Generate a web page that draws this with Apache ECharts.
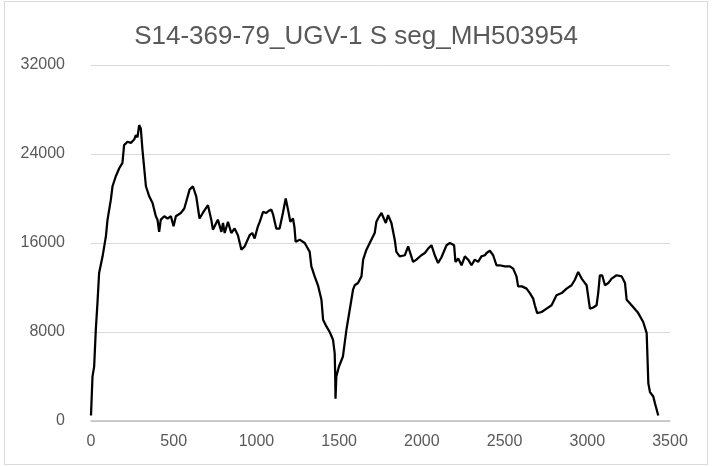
<!DOCTYPE html>
<html>
<head>
<meta charset="utf-8">
<script src="https://cdn.jsdelivr.net/npm/echarts@6/dist/echarts.min.js"></script>
<style>
  html, body { margin: 0; padding: 0; background: #fff; }
  #frame { position: absolute; left: 4px; top: 1px; width: 702px; height: 462px; border: 1px solid #d9d9d9; }
  #chart { position: absolute; left: 0; top: 0; width: 712px; height: 466px; }
</style>
</head>
<body>
<div id="frame"></div>
<div id="chart"></div>
<script>
// positions along the segment (nt) and read coverage depth
var position = [
  0, 9, 19, 29, 39, 49, 70, 90, 100, 120, 130, 150, 170, 190, 200, 221, 241, 261, 271, 281, 291, 301, 311,
  332, 352, 372, 392, 402, 412, 422, 443, 463, 483, 499, 513, 543, 564, 576, 596, 616, 636, 656, 676,
  707, 727, 737, 757, 767, 788, 798, 808, 828, 848, 868, 888, 909, 929, 959, 975, 989, 1009, 1020,
  1040, 1060, 1075, 1090, 1100, 1120, 1140, 1160, 1177, 1191, 1205, 1221, 1230, 1237, 1261, 1292,
  1322, 1332, 1352, 1372, 1393, 1403, 1423, 1443, 1463, 1473, 1476, 1478, 1483, 1499, 1523, 1544,
  1564, 1584, 1594, 1614, 1635, 1645, 1665, 1685, 1715, 1725, 1735, 1756, 1770, 1782, 1796, 1816,
  1836, 1846, 1866, 1897, 1917, 1927, 1947, 1967, 1997, 2018, 2038, 2058, 2078, 2098, 2118, 2149,
  2169, 2195, 2203, 2220, 2240, 2260, 2280, 2300, 2320, 2340, 2360, 2381, 2391, 2411, 2431, 2451,
  2470, 2502, 2532, 2552, 2572, 2582, 2605, 2633, 2653, 2673, 2683, 2697, 2724, 2754, 2784, 2814,
  2845, 2875, 2905, 2925, 2945, 2966, 2986, 2996, 3016, 3036, 3056, 3066, 3076, 3090, 3107, 3127,
  3147, 3177, 3208, 3228, 3238, 3268, 3308, 3338, 3359, 3369, 3379, 3399, 3409, 3429
];
var depth = [
  500, 3990, 4890, 8190, 10600, 13300, 14800, 16600, 18100, 19900, 21100, 22000, 22700, 23200, 24800, 25100, 25000, 25300, 25700, 25500, 26600, 26300, 24400,
  21100, 20200, 19600, 18400, 18100, 17000, 18100, 18400, 18200, 18400, 17500, 18400, 18700, 19100, 19000, 20800, 21100, 20200, 18200, 18700,
  19400, 18100, 17200, 17800, 18100, 17000, 17800, 16900, 17900, 16900, 17300, 16700, 15400, 15700, 16700, 16900, 16400, 17500, 17900,
  18800, 18700, 18900, 19000, 18600, 17300, 17300, 18700, 20000, 19000, 17900, 18200, 17400, 16100, 16300, 16000,
  15200, 13900, 13000, 12200, 10900, 9100, 8500, 8000, 7300, 6100, 4300, 2000, 4000, 4900, 5800, 8200,
  10000, 11800, 12200, 12400, 13000, 14500, 15400, 16000, 16900, 17900, 18200, 18700, 18200, 17800, 18500, 17800,
  16300, 15200, 14800, 14900, 15700, 15600, 14300, 14500, 14900, 15100, 15500, 15800, 14900, 14200, 14700, 15800,
  16000, 15800, 14300, 14600, 14000, 14800, 14500, 14000, 14500, 14300, 14800, 14900, 15100, 15300, 14900, 14000,
  14000, 13900, 13900, 13700, 13000, 12100, 12100, 11900, 11500, 11000, 10400, 9700, 9800, 10100, 10400, 11300,
  11500, 11900, 12200, 12700, 13400, 12800, 12400, 12200, 10100, 10200, 10400, 11500, 13100, 13100, 12200, 12400,
  12800, 13100, 13000, 12400, 10900, 10400, 9700, 8900, 7900, 3400, 2600, 2200, 1600, 500
];
var yTicks = [0, 8000, 16000, 24000, 32000];
var xTicks = [0, 500, 1000, 1500, 2000, 2500, 3000, 3500];

var points = position.map(function (p, i) { return [p, depth[i]]; });

var chart = echarts.init(document.getElementById('chart'));
chart.setOption({
  animation: false,
  title: {
    text: 'S14-369-79_UGV-1 S seg_MH503954',
    left: 'center',
    top: 19,
    textStyle: { fontFamily: 'Liberation Sans', fontSize: 26, fontWeight: 'normal', color: '#595959' }
  },
  grid: { left: 91, right: 42, top: 65, bottom: 45 },
  xAxis: {
    type: 'value',
    min: xTicks[0],
    max: xTicks[xTicks.length - 1],
    interval: 500,
    axisLine: { show: true, lineStyle: { color: '#bfbfbf', width: 1.5 } },
    axisTick: { show: false },
    splitLine: { show: false },
    axisLabel: {
      color: '#595959', fontFamily: 'Liberation Sans', fontSize: 16, margin: 13,
      formatter: function (v) { return String(v); }
    }
  },
  yAxis: {
    type: 'value',
    min: yTicks[0],
    max: yTicks[yTicks.length - 1],
    interval: 8000,
    axisLine: { show: false },
    axisTick: { show: false },
    splitLine: { lineStyle: { color: '#d9d9d9', width: 1 } },
    axisLabel: {
      color: '#595959', fontFamily: 'Liberation Sans', fontSize: 16, margin: 26,
      formatter: function (v) { return String(v); }
    }
  },
  series: [{
    type: 'line',
    data: points,
    showSymbol: false,
    lineStyle: { color: '#000', width: 2.25 }
  }]
});
</script>
</body>
</html>
